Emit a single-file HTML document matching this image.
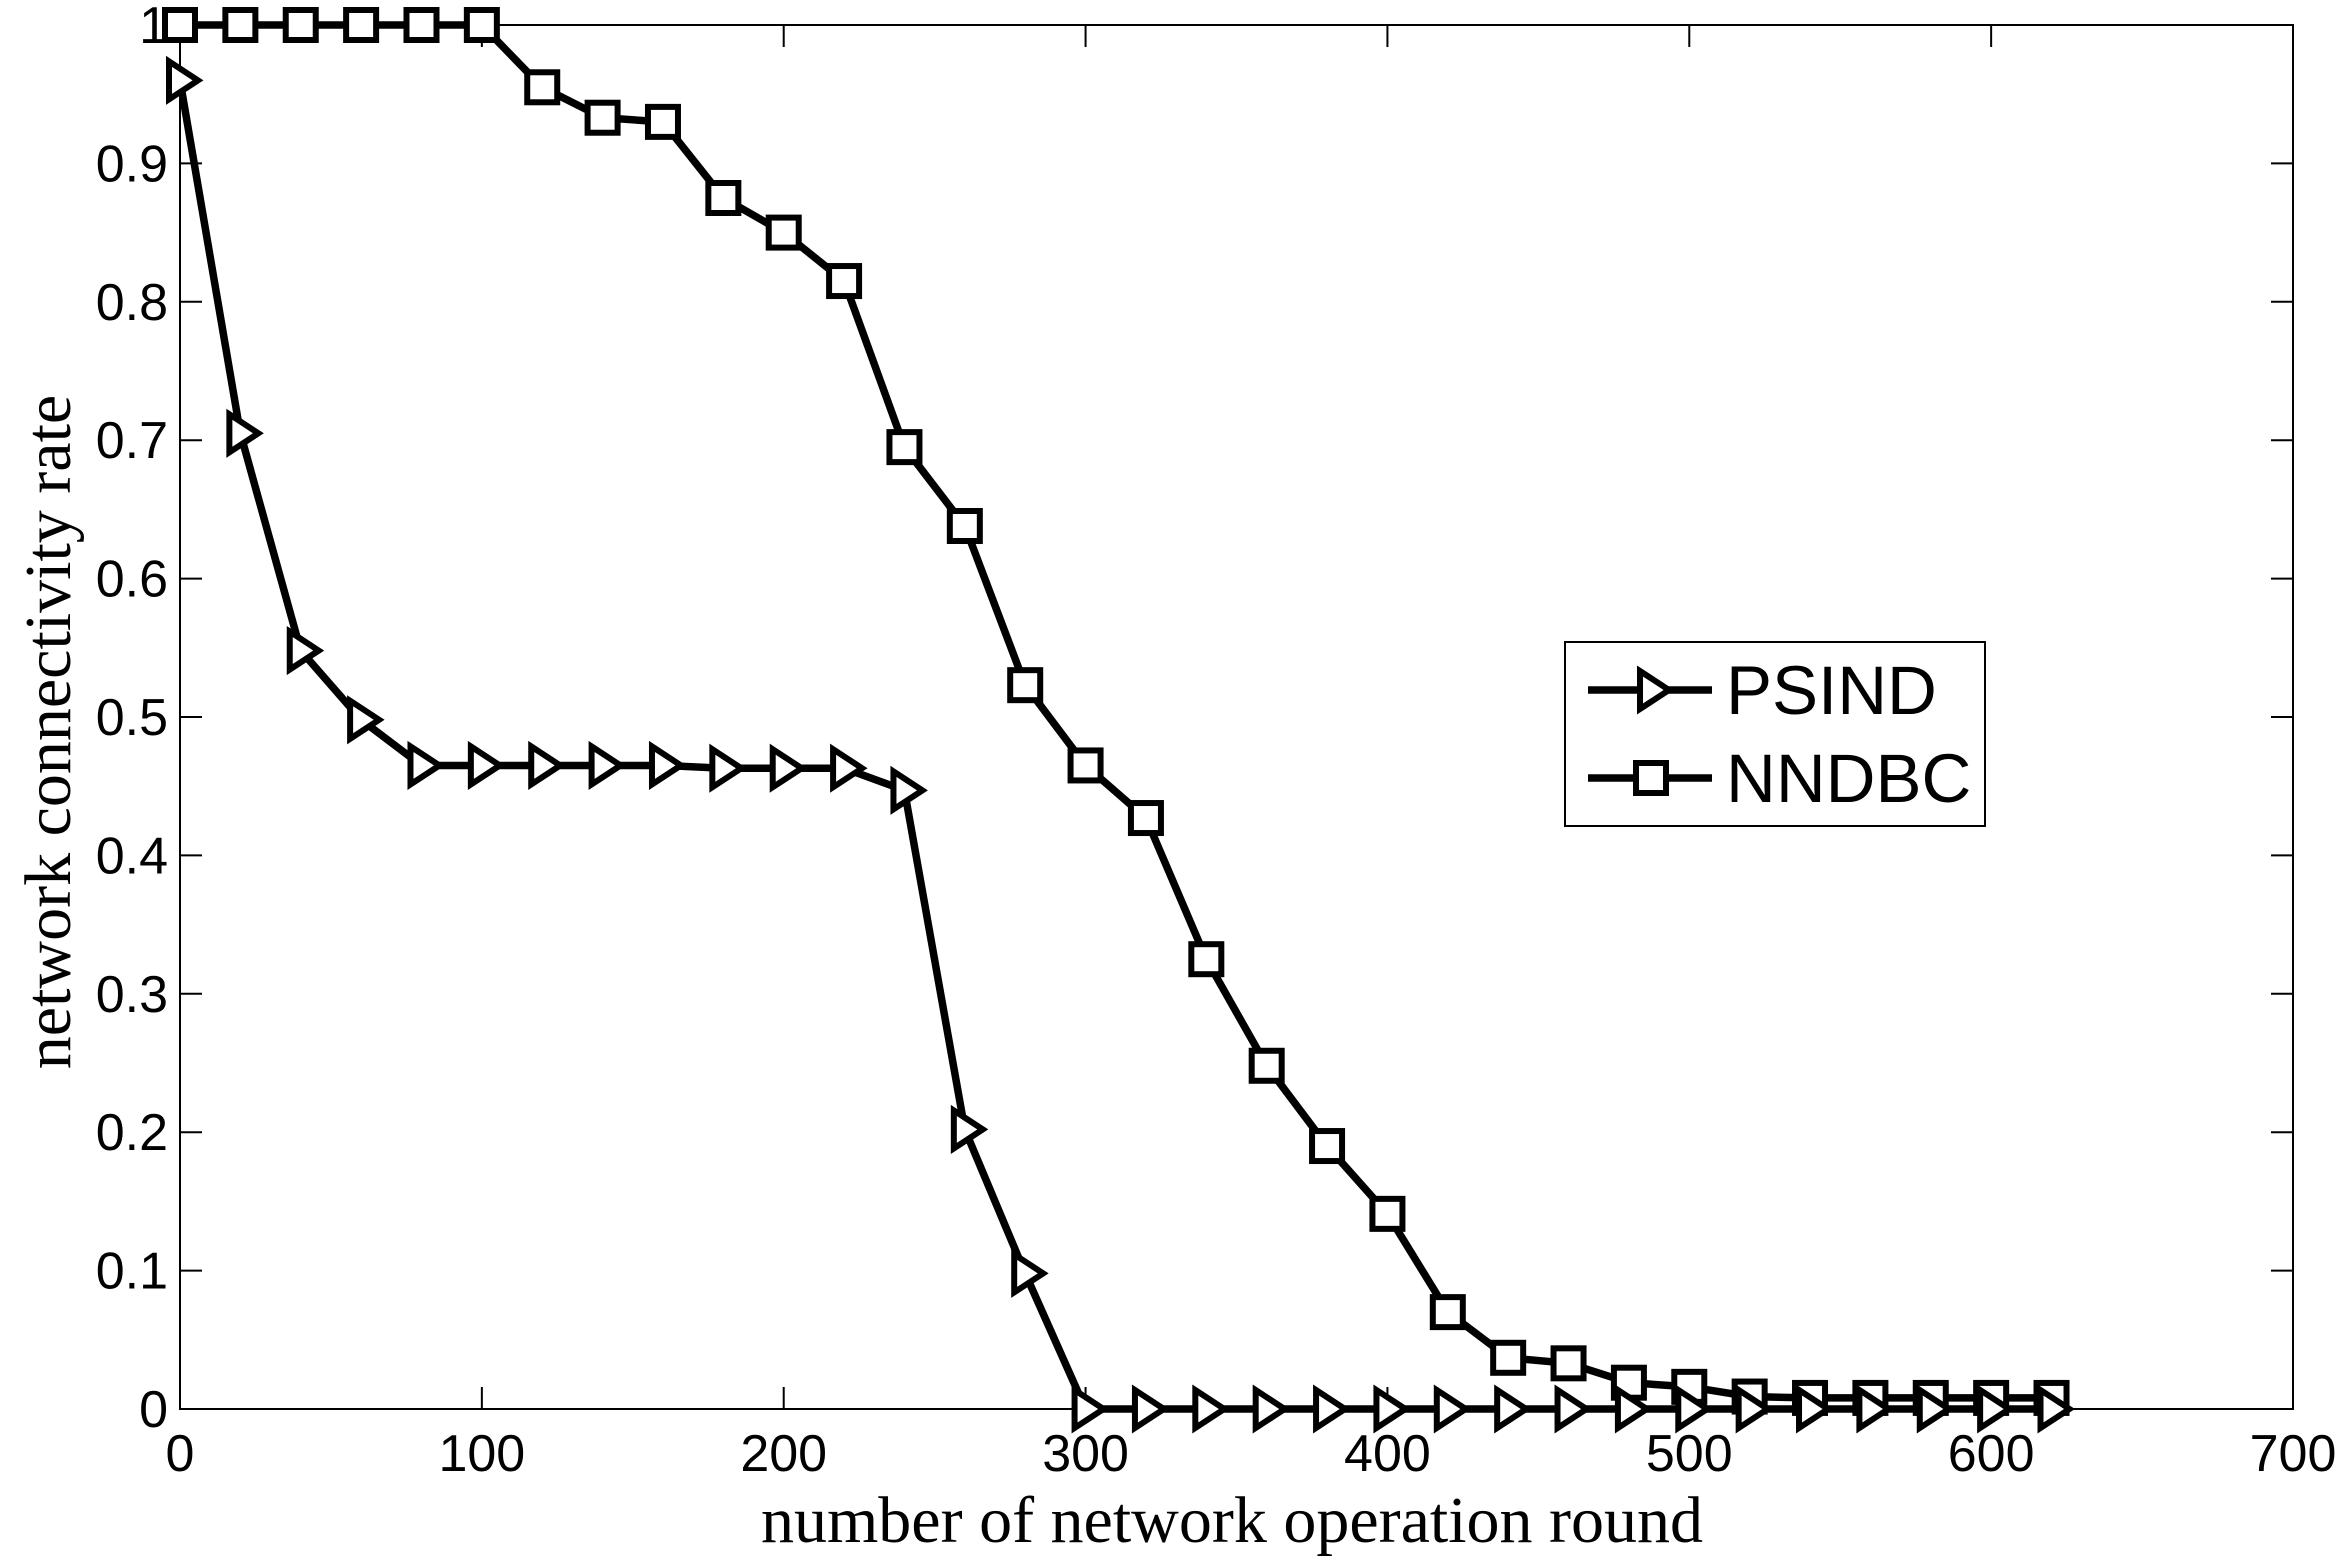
<!DOCTYPE html>
<html><head><meta charset="utf-8"><style>
html,body{margin:0;padding:0;background:#fff}
svg{display:block}
</style></head><body>
<svg id="chart" width="2341" height="1561" viewBox="0 0 2341 1561" xmlns="http://www.w3.org/2000/svg">
<g id="axes"></g><g id="series"></g><g id="legend"></g>
</svg>
<script>
const xValues=[0,20,40,60,80,100,120,140,160,180,200,220,240,260,280,300,320,340,360,380,400,420,440,460,480,500,520,540,560,580,600,620];
const psindValues=[0.96,0.705,0.548,0.498,0.465,0.465,0.465,0.465,0.465,0.463,0.463,0.463,0.447,0.202,0.098,0,0,0,0,0,0,0,0,0,0,0,0,0,0,0,0,0];
const nndbcValues=[1,1,1,1,1,1,0.955,0.933,0.930,0.875,0.850,0.815,0.695,0.638,0.523,0.465,0.427,0.325,0.248,0.190,0.141,0.070,0.037,0.033,0.019,0.016,0.009,0.008,0.008,0.008,0.008,0.008];
const xTicks=[0,100,200,300,400,500,600,700];
const yTicks=[0,0.1,0.2,0.3,0.4,0.5,0.6,0.7,0.8,0.9,1];
const yTickLabels=["0","0.1","0.2","0.3","0.4","0.5","0.6","0.7","0.8","0.9","1"];

const L=180,R=2293,T=25,B=1409;
const sx=v=>L+(v-0)/(700-0)*(R-L);
const sy=v=>B-(v-0)/(1-0)*(B-T);
const NS="http://www.w3.org/2000/svg";
function mk(tag,attrs,parent){const e=document.createElementNS(NS,tag);for(const k in attrs)e.setAttribute(k,attrs[k]);parent.appendChild(e);return e;}
const axes=document.getElementById('axes'),series=document.getElementById('series'),legend=document.getElementById('legend');

const frame=mk('rect',{x:L,y:T,width:R-L,height:B-T,fill:'none',stroke:'#000','stroke-width':2},axes);


xTicks.forEach(t=>{
  const x=sx(t);
  const a=mk('line',{x1:x,y1:B,x2:x,y2:B-22,stroke:'#000','stroke-width':2},axes);
  
  
  mk('line',{x1:x,y1:T,x2:x,y2:T+22,stroke:'#000','stroke-width':2},axes);
  const tx=mk('text',{x:x,y:B+62,'text-anchor':'middle','font-family':'Liberation Sans, sans-serif','font-size':52},axes);
  tx.textContent=t;
  
  
});
yTicks.forEach((t,i)=>{
  const y=sy(t);
  const a=mk('line',{x1:L,y1:y,x2:L+22,y2:y,stroke:'#000','stroke-width':2},axes);
  
  
  mk('line',{x1:R,y1:y,x2:R-22,y2:y,stroke:'#000','stroke-width':2},axes);
  const tx=mk('text',{x:L-12,y:y+18,'text-anchor':'end','font-family':'Liberation Sans, sans-serif','font-size':52},axes);
  tx.textContent=yTickLabels[i];
  
  
});
const xt=mk('text',{x:1232,y:1542,'text-anchor':'middle','font-family':'Liberation Serif, serif','font-size':66},axes);
xt.textContent='number of network operation round';


const yt=mk('text',{x:0,y:0,'text-anchor':'middle','font-family':'Liberation Serif, serif','font-size':66,transform:'translate(70,732) rotate(-90)'},axes);
yt.textContent='network connectivity rate';



function tri(x,y,g){return mk('polygon',{points:`${x-11},${y-19} ${x+18},${y} ${x-11},${y+19}`,fill:'#fff',stroke:'#000','stroke-width':6},g);}
function sq(x,y,g){return mk('rect',{x:x-15,y:y-15,width:30,height:30,fill:'#fff',stroke:'#000','stroke-width':6},g);}

const gN=mk('g',{},series);


const nl=mk('polyline',{points:xValues.map((x,i)=>sx(x)+','+sy(nndbcValues[i])).join(' '),fill:'none',stroke:'#000','stroke-width':7.5},gN);


xValues.forEach((x,i)=>{const m=sq(sx(x),sy(nndbcValues[i]),gN);
  
  });

const gP=mk('g',{},series);


const pl=mk('polyline',{points:xValues.map((x,i)=>sx(x)+','+sy(psindValues[i])).join(' '),fill:'none',stroke:'#000','stroke-width':7.5},gP);


xValues.forEach((x,i)=>{const m=tri(sx(x),sy(psindValues[i]),gP);
  
  });

const lb=mk('rect',{x:1565,y:642,width:420,height:184,fill:'#fff',stroke:'#000','stroke-width':2},legend);


mk('line',{x1:1588,y1:690,x2:1712,y2:690,stroke:'#000','stroke-width':7.5},legend);
tri(1651,690,legend);
const l1=mk('text',{x:1726,y:714,'font-family':'Liberation Sans, sans-serif','font-size':69},legend);
l1.textContent='PSIND';


mk('line',{x1:1588,y1:778,x2:1712,y2:778,stroke:'#000','stroke-width':7.5},legend);
sq(1651,778,legend);
const l2=mk('text',{x:1726,y:802,'font-family':'Liberation Sans, sans-serif','font-size':69},legend);
l2.textContent='NNDBC';


</script>
</body></html>
